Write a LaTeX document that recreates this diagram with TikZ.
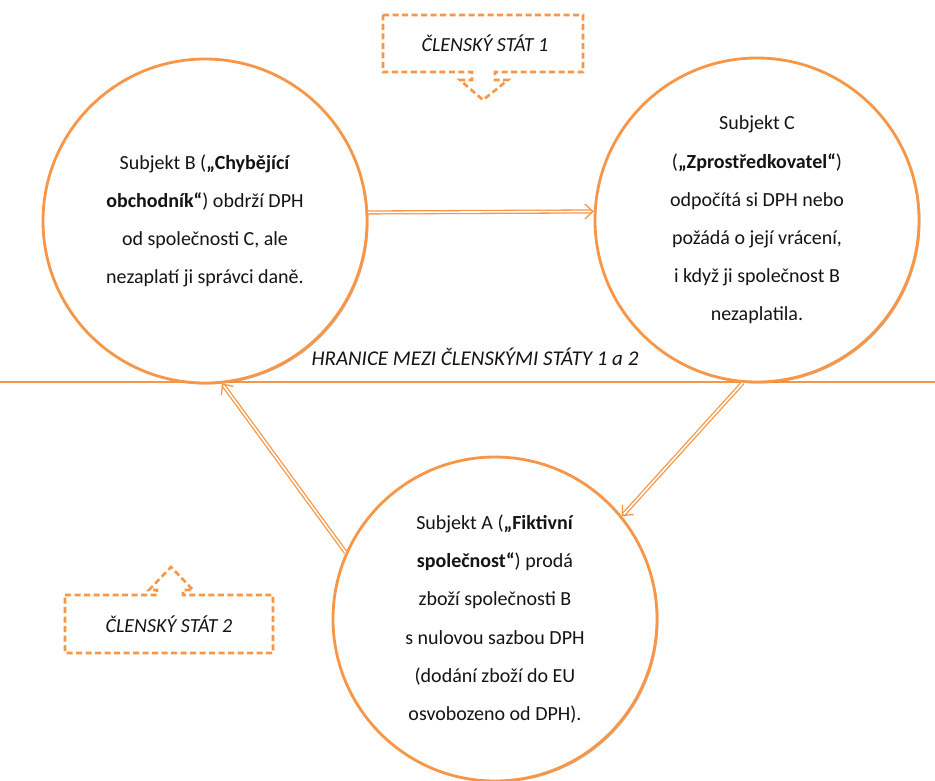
\documentclass[tikz,border=0pt]{standalone}
\usepackage{fontspec}
\setmainfont{Carlito}
\usetikzlibrary{arrows.meta,shadows}
\definecolor{orng}{HTML}{F79646}
\definecolor{txt}{HTML}{141414}
\begin{document}
\begin{tikzpicture}[x=1pt,y=-1pt,
  bubble/.style={circle, draw=orng, line width=2.8pt, fill=white, minimum size=324pt, inner sep=0pt,
     align=center, text=txt, font=\fontsize{20}{38.2}\selectfont,
     drop shadow={shadow xshift=1.5pt, shadow yshift=-1.5pt, opacity=0.45, fill=orng!60!black}},
  flow/.style={draw=orng, double=white, double distance=1.6pt, line width=1.3pt,
     -{Straight Barb[length=8pt,width=15pt]}},
  callout/.style={draw=orng, line width=2.6pt, dash pattern=on 6pt off 3.5pt, line join=miter},
  boxtext/.style={text=txt, font=\fontsize{20}{22}\selectfont\itshape},
]
\useasboundingbox (0,0) rectangle (935,780);

% border line
\draw[orng, line width=2pt] (0,382) -- (935,382);
\node[boxtext, font=\fontsize{21}{22}\selectfont\itshape] (border) at (475,357) {HRANICE MEZI ČLENSKÝMI STÁTY 1 a 2};

% callouts
\draw[callout] (383,15) -- (583,15) -- (583,72) -- (495,72) -- (495,80) -- (508,80)
  -- (483,100) -- (460,80) -- (472,80) -- (472,72) -- (383,72) -- cycle;
\node[boxtext] (st1) at (485,43) {ČLENSKÝ STÁT 1};

\draw[callout] (65,595) -- (157,595) -- (157,590) -- (149,590) -- (171,567)
  -- (193,590) -- (183,590) -- (183,595) -- (273,595) -- (273,653) -- (65,653) -- cycle;
\node[boxtext] (st2) at (169,624) {ČLENSKÝ STÁT 2};

% circles
\node[bubble] (B) at (205,221) {Subjekt B (\textbf{„Chybějící}\\
  \textbf{obchodník“}) obdrží DPH\\
  od společnosti C, ale\\
  nezaplatí ji správci daně.};
\node[bubble] (C) at (757,220) {Subjekt C\\
  (\textbf{„Zprostředkovatel“})\\
  odpočítá si DPH nebo\\
  požádá o její vrácení,\\
  i když ji společnost B\\
  nezaplatila.};
\node[bubble] (A) at (495,619) {Subjekt A (\textbf{„Fiktivní}\\
  \textbf{společnost“}) prodá\\
  zboží společnosti B\\
  s nulovou sazbou DPH\\
  (dodání zboží do EU\\
  osvobozeno od DPH).};

% flows
\draw[flow] (B.3) -- (C.177);
\draw[flow] (C.-95) -- (A.39);
\draw[flow] (A.156) -- (B.-84);
\end{tikzpicture}
\end{document}
